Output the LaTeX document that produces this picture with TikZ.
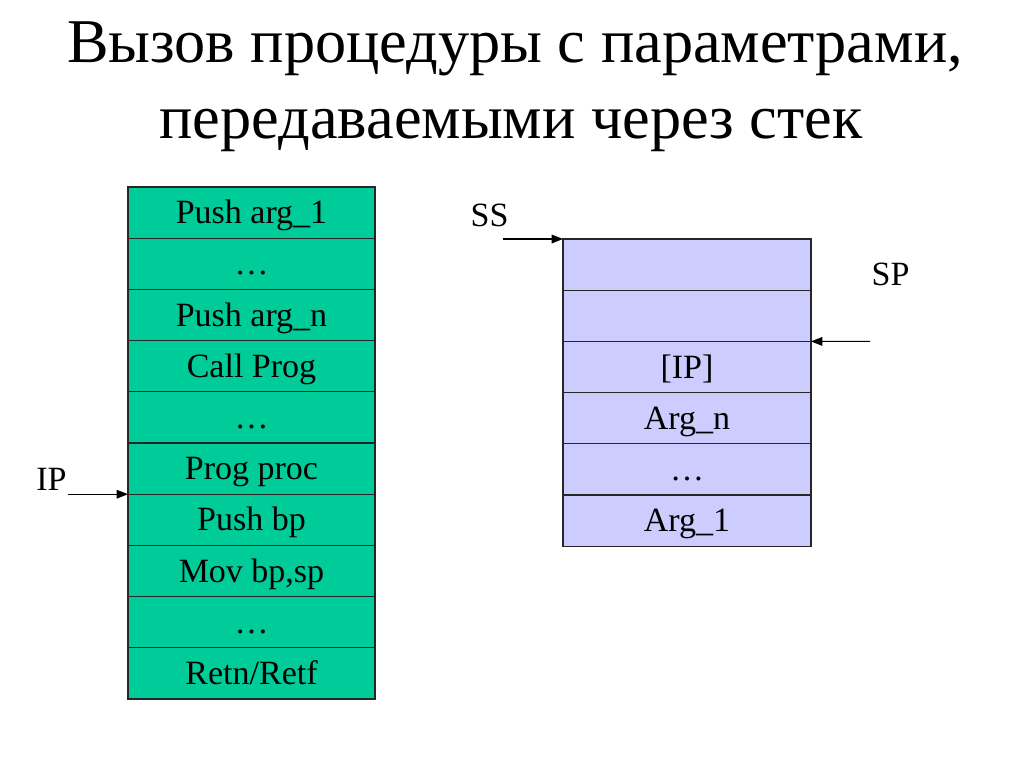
\documentclass[tikz,border=0pt]{standalone}
\usepackage{fontspec}
\setmainfont{Liberation Serif}
\usetikzlibrary{arrows.meta}
\definecolor{cellgreen}{RGB}{0,204,153}
\definecolor{celllav}{RGB}{204,204,255}
\begin{document}
\begin{tikzpicture}[x=0.75pt,y=-0.75pt,
  cell/.style={rectangle,inner sep=0pt,outer sep=0pt,
    minimum height=38.4pt,text height=16.5pt,text depth=0pt,
    font=\fontsize{25.5}{30}\selectfont},
  lcell/.style={cell,fill=cellgreen,minimum width=185.25pt},
  rcell/.style={cell,fill=celllav,minimum width=186pt},
  edge/.style={draw=black!85,line width=1pt},
  lbl/.style={inner sep=0pt,anchor=base,font=\fontsize{25.5}{30}\selectfont},
  ttl/.style={inner sep=0pt,anchor=base,font=\fontsize{46.7}{50}\selectfont},
  ptr/.style={line width=0.8pt,-{Triangle[length=8.5pt,width=6.5pt]}}]
\useasboundingbox[fill=white] (0,0) rectangle (1024,768);
\node[ttl] (t1) at (515,62) {Вызов процедуры с параметрами,};
\node[ttl] (t2) at (511,138) {передаваемыми через стек};
% left table
\foreach \i/\t in {0/{Push arg\_1},1/{\dots},2/{Push arg\_n},3/{Call Prog},4/{\dots},5/{Prog proc},6/{Push bp},7/{Mov bp,sp},8/{\dots},9/{Retn/Retf}}{
  \node[lcell] (l\i) at (251.5,{187+25.6+51.2*\i}) {\t};
}
\foreach \i in {0,...,9}{\draw[edge] (l\i.north west) rectangle (l\i.south east);}
% right table
\foreach \i/\t in {0/{},1/{},2/{[IP]},3/{Arg\_n},4/{\dots},5/{Arg\_1}}{
  \node[rcell] (r\i) at (687,{239+25.6+51.2*\i}) {\t};
}
\foreach \i in {0,...,5}{\draw[edge] (r\i.north west) rectangle (r\i.south east);}
\node[lbl] (ip) at (51.5,490) {IP};
\node[lbl] (ss) at (489.5,226) {SS};
\node[lbl] (sp) at (890.5,285) {SP};
\coordinate (ipstart) at (68,494.2);
\coordinate (ssstart) at (503,239);
\coordinate (spstart) at (870,341.4);
\draw[ptr] (ipstart) -- (l6.north west);
\draw[ptr] (ssstart) -- (r0.north west);
\draw[ptr] (spstart) -- (r2.north east);
\end{tikzpicture}
\end{document}
